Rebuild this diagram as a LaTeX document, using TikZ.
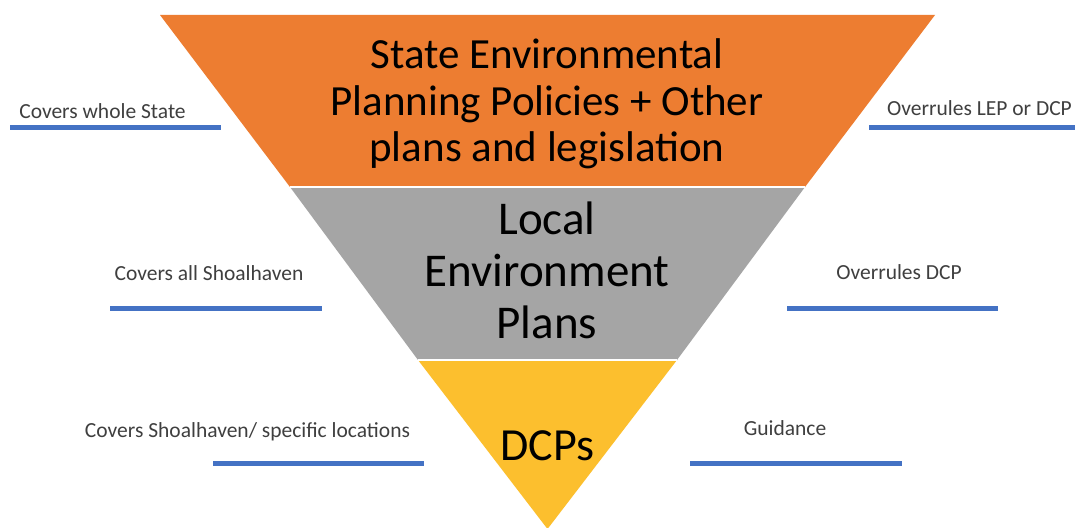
\documentclass[tikz,border=0pt]{standalone}
\usepackage{fontspec}
\setmainfont{Carlito}
\begin{document}
\begin{tikzpicture}[x=1pt,y=-1pt,
  bigtext/.style={align=center,inner sep=0pt,text=black},
  note/.style={inner sep=0pt,anchor=base,text=notegray,font=\fontsize{21.5}{24}\selectfont},
  rule/.style={draw=ruleblue,line width=5pt}]
\definecolor{bandorange}{HTML}{ED7D31}
\definecolor{bandgray}{HTML}{A5A5A5}
\definecolor{bandgold}{HTML}{FCBF2E}
\definecolor{ruleblue}{HTML}{4472C4}
\definecolor{notegray}{HTML}{3F3F3F}
\useasboundingbox[fill=white] (0,0) rectangle (1075,527);
% inverted pyramid, three bands
\coordinate (tl) at (160,15);
\coordinate (tr) at (935,15);
\coordinate (ml1) at (290,187);
\coordinate (mr1) at (805,187);
\coordinate (ml2) at (418,360);
\coordinate (mr2) at (677,360);
\coordinate (apex) at (547.5,529);
\begin{scope}
\clip (0,0) rectangle (1075,527);
\fill[bandgold] (ml2) -- (mr2) -- (apex) -- cycle;
\fill[bandgray] (ml1) -- (mr1) -- (mr2) -- (ml2) -- cycle;
\fill[bandorange] (tl) -- (tr) -- (mr1) -- (ml1) -- cycle;
\draw[white,line width=2pt] (ml1) -- (mr1);
\draw[white,line width=2pt] (ml2) -- (mr2);
\end{scope}
% band titles
\node[bigtext,font=\fontsize{43}{46.5}\selectfont] (sepp) at (547,104)
  {State Environmental\\Planning Policies + Other\\plans and legislation};
\node[bigtext,font=\fontsize{47}{52}\selectfont] (lep) at (547,270)
  {Local\\Environment\\Plans};
\node[bigtext,anchor=base,font=\fontsize{46}{50}\selectfont] (dcp) at (547.5,460) {DCPs};
% side notes with their underlines
\node[note] (n1) at (102.5,118) {Covers whole State};
\node[note] (n2) at (209,280) {Covers all Shoalhaven};
\node[note] (n3) at (247.5,437) {Covers Shoalhaven/ specific locations};
\node[note] (n4) at (979.5,115) {Overrules LEP or DCP};
\node[note] (n5) at (899,279) {Overrules DCP};
\node[note] (n6) at (785,435) {Guidance};
\draw[rule] (10,127) -- (221,127);
\draw[rule] (110,308) -- (322,308);
\draw[rule] (213,463) -- (424,463);
\draw[rule] (869,127) -- (1075,127);
\draw[rule] (787,308) -- (998,308);
\draw[rule] (690,463) -- (902,463);
\end{tikzpicture}
\end{document}
